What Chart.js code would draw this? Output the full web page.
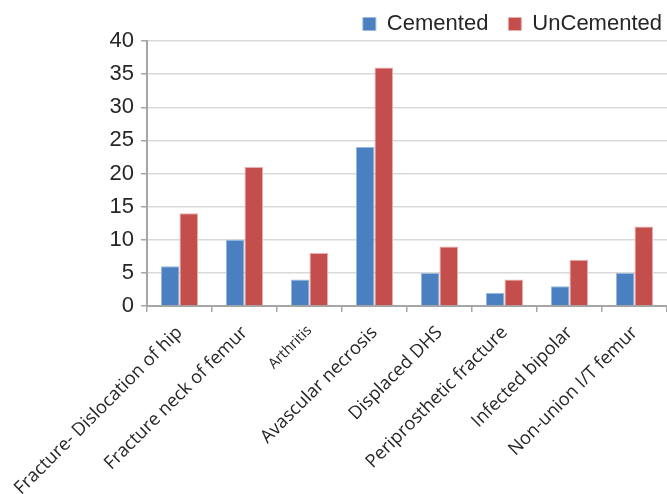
<!DOCTYPE html>
<html>
<head>
<meta charset="utf-8">
<title>Cemented vs UnCemented</title>
<script src="https://cdn.jsdelivr.net/npm/chart.js@4/dist/chart.umd.min.js"></script>
<style>
  html, body { margin: 0; padding: 0; background: #ffffff; }
  #wrap { width: 667px; height: 494px; position: relative; }
</style>
</head>
<body>
<div id="wrap"><canvas id="chart"></canvas></div>
<script>
// Indications for revision, by prosthesis type
const categories = [
  'Fracture- Dislocation of hip',
  'Fracture neck of femur',
  'Arthritis',
  'Avascular necrosis',
  'Displaced DHS',
  'Periprosthetic fracture',
  'Infected bipolar',
  'Non-union I/T femur'
];
const cemented   = [6, 10, 4, 24, 5, 2, 3, 5];
const uncemented = [14, 21, 8, 36, 9, 4, 7, 12];
const yTicks = [0, 5, 10, 15, 20, 25, 30, 35, 40];

const axisGrey = '#a6a6a6';
const textDark = '#262626';

// widens the legend box past the right edge so the row sits closer to it
const legendShift = {
  id: 'legendShift',
  afterLayout(chart) {
    if (chart.legend) {
      chart.legend.right += 15;
      chart.legend.width += 15;
    }
  }
};

new Chart(document.getElementById('chart'), {
  type: 'bar',
  data: {
    labels: categories,
    datasets: [
      {
        label: 'Cemented',
        data: cemented,
        backgroundColor: '#4A7FC0',
        borderColor: '#9bb9df',
        borderWidth: 1,
        borderSkipped: 'bottom'
      },
      {
        label: 'UnCemented',
        data: uncemented,
        backgroundColor: '#C44E4C',
        borderColor: '#e8aeac',
        borderWidth: 1,
        borderSkipped: 'bottom'
      }
    ]
  },
  plugins: [legendShift],
  options: {
    responsive: true,
    maintainAspectRatio: false,
    animation: false,
    devicePixelRatio: 1,
    layout: { padding: { top: -7, left: 0, right: 0, bottom: 0 } },
    datasets: {
      bar: { categoryPercentage: 0.57, barPercentage: 1.0 }
    },
    plugins: {
      tooltip: { enabled: false },
      legend: {
        position: 'top',
        align: 'end',
        maxHeight: 48,
        labels: {
          boxWidth: 13,
          boxHeight: 13,
          padding: 20,
          color: textDark,
          font: { family: "'Liberation Sans', Arial, sans-serif", size: 22 }
        }
      }
    },
    scales: {
      x: {
        grid: {
          display: true,
          offset: true,
          drawOnChartArea: false,
          drawTicks: true,
          tickLength: 6,
          tickColor: axisGrey,
          lineWidth: 1.5
        },
        border: { display: true, color: axisGrey, width: 2 },
        ticks: {
          autoSkip: false,
          minRotation: 45,
          maxRotation: 45,
          padding: 10,
          labelOffset: 0,
          color: textDark,
          font: (ctx) => ({
            family: "'Open Sans', sans-serif",
            size: ctx.index === 2 ? 14.5 : 18.2
          })
        },
        afterFit(scale) {
          scale.height = 188;
          scale.paddingLeft = 0;
          scale.paddingRight = 0;
        }
      },
      y: {
        min: 0,
        max: 40,
        afterBuildTicks(scale) {
          scale.ticks = yTicks.map(v => ({ value: v }));
        },
        grid: {
          color: '#d9d9d9',
          lineWidth: 1.5,
          drawTicks: true,
          tickLength: 6,
          tickColor: axisGrey
        },
        border: { display: true, color: axisGrey, width: 2 },
        ticks: {
          padding: 7,
          color: textDark,
          font: { family: "'Liberation Sans', Arial, sans-serif", size: 22 }
        },
        afterFit(scale) {
          scale.width = 147;
        }
      }
    }
  }
});
</script>
</body>
</html>
